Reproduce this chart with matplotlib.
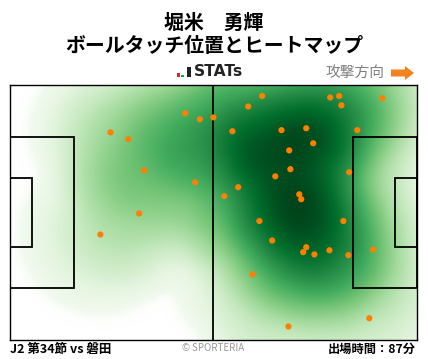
import numpy as np
import matplotlib
matplotlib.use("Agg")
import matplotlib.pyplot as plt
from matplotlib.patches import Rectangle, FancyArrow

plt.rcParams['font.family'] = ['Noto Sans CJK JP', 'DejaVu Sans']

# Ball touch locations (metres, pitch 105 x 68, y measured from the top touchline)
touch_x = [45.2, 49.0, 52.5, 25.9, 30.5, 34.6, 47.8, 33.3, 23.3,
           65.1, 82.7, 85.0, 96.2, 61.5, 85.6, 57.4, 70.1, 76.5, 89.7,
           78.3, 72.1, 72.4, 68.5, 87.6, 58.9, 55.3, 74.7, 75.2, 64.4,
           86.1, 67.7, 76.5, 75.7, 78.6, 82.5, 87.4, 93.8, 62.6, 92.8, 71.9]
touch_y = [7.6, 9.2, 8.7, 12.7, 14.5, 22.8, 26.0, 34.3, 39.9,
           3.0, 3.4, 3.0, 3.6, 5.8, 5.5, 12.4, 12.1, 11.6, 12.1,
           15.6, 17.5, 22.5, 24.4, 23.3, 27.3, 29.7, 29.2, 30.5, 36.3,
           36.3, 41.5, 43.3, 44.6, 45.2, 44.1, 45.4, 43.9, 50.5, 62.2, 64.4]

player_name = "堀米　勇輝"
chart_title = "ボールタッチ位置とヒートマップ"
match_label = "J2 第34節 vs 磐田"
minutes_label = "出場時間：87分"
direction_label = "攻撃方向"
credit_label = "© SPORTERIA"

PITCH_L, PITCH_W = 105.0, 68.0

W, H = 428, 359
fig = plt.figure(figsize=(W / 100, H / 100), dpi=100)
fig.patch.set_facecolor("white")

ax_l, ax_r, ax_t, ax_b = 10.3, 416.5, 84.7, 340.0
ax = fig.add_axes([ax_l / W, 1 - ax_b / H, (ax_r - ax_l) / W, (ax_b - ax_t) / H])

# Heat map: each touch spreads a compact biweight blob, the sum is shaded
radius_x, radius_y = 25.0, 25.5   # metres
gx = np.linspace(0, PITCH_L, 420)
gy = np.linspace(0, PITCH_W, 272)
GX, GY = np.meshgrid(gx, gy)
heat = np.zeros_like(GX)
for px, py in zip(touch_x, touch_y):
    r2 = ((GX - px) / radius_x) ** 2 + ((GY - py) / radius_y) ** 2
    heat += np.clip(1 - r2, 0, None) ** 2
heat /= heat.max()

level = np.clip(heat, 0, 1) ** 0.7
cmap = plt.get_cmap("Greens")
rgba = cmap(level)
# fade the faintest fringe smoothly into the white pitch
fade = np.clip(heat / 0.012, 0, 1)[..., None]
rgba[..., :3] = rgba[..., :3] * fade + (1 - fade)
ax.imshow(rgba, extent=[0, PITCH_L, PITCH_W, 0], origin="upper",
          interpolation="bilinear", aspect="auto", zorder=1)

# Pitch markings
lc = "black"
lw = 1.3
ax.plot([PITCH_L / 2, PITCH_L / 2], [0, PITCH_W], color=lc, lw=lw, zorder=2)
box_d, box_w = 16.5, 40.32
ga_d, ga_w = 5.5, 18.32
for x0, d, w in [(0, box_d, box_w), (PITCH_L - box_d, box_d, box_w),
                 (0, ga_d, ga_w), (PITCH_L - ga_d, ga_d, ga_w)]:
    ax.add_patch(Rectangle((x0, (PITCH_W - w) / 2), d, w, fill=False, ec=lc, lw=lw, zorder=2))

ax.scatter(touch_x, touch_y, s=20, color="#ff8000", edgecolors="none", zorder=3)

ax.set_xlim(0, PITCH_L)
ax.set_ylim(PITCH_W, 0)
ax.set_xticks([])
ax.set_yticks([])
for sp in ax.spines.values():
    sp.set_linewidth(1.0)
    sp.set_color("black")

# Titles
fig.text(0.5, 1 - 22 / H, player_name, ha="center", va="center", fontsize=14.3, fontweight="bold")
fig.text(0.5, 1 - 46 / H, chart_title, ha="center", va="center", fontsize=14.3, fontweight="bold")

# STATs logo
logo_bars = [(176.7, 180.3, 72.7, "#e8202a"), (180.7, 184.3, 74.7, "#1fa13a"), (186.5, 190.7, 66.8, "#222222")]
for x0, x1, top, c in logo_bars:
    fig.patches.append(Rectangle((x0 / W, 1 - 76.6 / H), (x1 - x0) / W, (76.6 - top) / H,
                                 transform=fig.transFigure, color=c, ec="none"))
fig.text(194 / W, 1 - 71.8 / H, "STATs", ha="left", va="center", fontsize=11.2,
         fontweight="bold", color="#222222", family="DejaVu Sans")

# Attack direction
fig.text(384 / W, 1 - 72.5 / H, direction_label, ha="right", va="center", fontsize=10.6, color="#808080")
fig.patches.append(FancyArrow(391 / W, 1 - 73 / H, 23 / W, 0, width=7 / H, head_width=14 / H,
                              head_length=9 / W, length_includes_head=True,
                              transform=fig.transFigure, color="#f7811e", ec="none"))

# Footer
fig.text(10 / W, 1 - 349 / H, match_label, ha="left", va="center", fontsize=9, fontweight="bold")
fig.text(213 / W, 1 - 348 / H, credit_label, ha="center", va="center", fontsize=7, color="#999999")
fig.text(416 / W, 1 - 349 / H, minutes_label, ha="right", va="center", fontsize=8.8, fontweight="bold")

fig.savefig("out.png", dpi=100)
